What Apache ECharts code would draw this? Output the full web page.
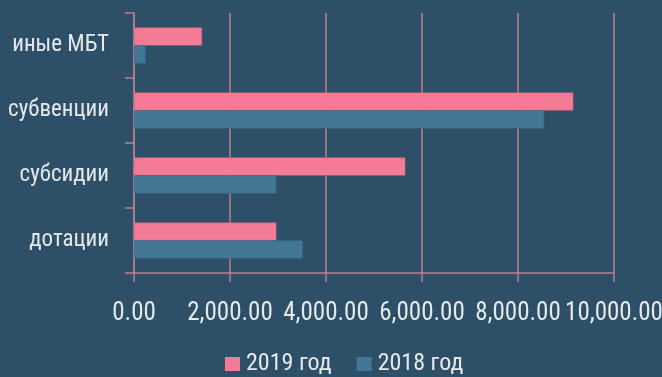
<!DOCTYPE html>
<html>
<head>
<meta charset="utf-8">
<script src="https://cdn.jsdelivr.net/npm/echarts@6/dist/echarts.min.js"></script>
<style>
  html, body { margin: 0; padding: 0; background: #2D5068; }
  #chart { width: 662px; height: 377px; }
</style>
</head>
<body>
<div id="chart"></div>
<script>
// Межбюджетные трансферты по видам
const categories = ['дотации', 'субсидии', 'субвенции', 'иные МБТ'];
const values2019 = [2965, 5652, 9152, 1417];
const values2018 = [3514, 2965, 8542, 243];
const seriesNames = ['2019 год', '2018 год'];
const xTicks = [0, 2000, 4000, 6000, 8000, 10000];

const FONT = '"Liberation Sans Narrow", "Roboto Condensed", "Arial Narrow", sans-serif';
const TEXT = '#E6E8EA';
const LINE = '#B87F8F';
const PINK = '#F47B96';
const BLUE = '#437595';

function fmt(v) {
  return v.toLocaleString('en-US', { minimumFractionDigits: 2, maximumFractionDigits: 2 });
}

const chart = echarts.init(document.getElementById('chart'));
chart.setOption({
  backgroundColor: '#2D5068',
  animation: false,
  textStyle: { fontFamily: FONT },
  grid: {
    left: 134, right: 48, top: 13, bottom: 104,
    containLabel: false,
    outerBoundsMode: 'none'
  },
  legend: {
    data: seriesNames,
    top: 352,
    left: 225,
    padding: 0,
    itemWidth: 15,
    itemHeight: 14,
    itemGap: 25,
    icon: 'rect',
    itemStyle: { borderWidth: 0 },
    textStyle: { color: TEXT, fontSize: 24, fontFamily: FONT, padding: [0, 0, 0, 1] }
  },
  xAxis: {
    type: 'value',
    min: xTicks[0],
    max: xTicks[xTicks.length - 1],
    interval: 2000,
    axisLine: { show: true, lineStyle: { color: LINE, width: 1.5 } },
    axisTick: { show: true, length: 9, lineStyle: { color: LINE, width: 1.5 } },
    splitLine: { show: true, lineStyle: { color: LINE, width: 1.5 } },
    axisLabel: {
      margin: 28,
      color: TEXT,
      fontSize: 25,
      fontFamily: FONT,
      formatter: fmt
    }
  },
  yAxis: {
    type: 'category',
    data: categories,
    axisLine: { show: true, lineStyle: { color: LINE, width: 1.5 } },
    axisTick: { show: true, length: 9, lineStyle: { color: LINE, width: 1.5 } },
    axisLabel: { color: TEXT, fontSize: 23, fontFamily: FONT, margin: 25 }
  },
  series: [
    {
      name: seriesNames[0],
      type: 'bar',
      data: values2019,
      barWidth: 18,
      barGap: '0%',
      itemStyle: { color: PINK, borderColor: '#C8647C', borderWidth: 0.5 }
    },
    {
      name: seriesNames[1],
      type: 'bar',
      data: values2018,
      barWidth: 18,
      barGap: '0%',
      itemStyle: { color: BLUE, borderColor: '#3C6A88', borderWidth: 0.5 }
    }
  ]
});
</script>
</body>
</html>
